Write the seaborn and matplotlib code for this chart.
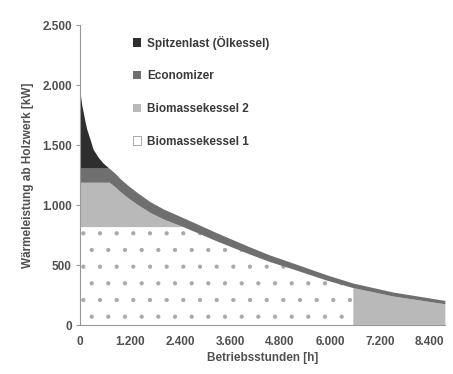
import numpy as np
import matplotlib
matplotlib.use("Agg")
import matplotlib.pyplot as plt
import seaborn as sns
from matplotlib.patches import Patch

# Jahresdauerlinie (kW)
hours = [0, 40, 80, 120, 160, 240, 310, 440, 550, 690,
         720, 850, 960, 1150, 1370, 1680, 2000, 2470,
         2900, 3290, 4080, 4560, 5110, 5930, 6550, 6550, 7510, 8760]
bk1 = [820, 820, 820, 820, 820, 820, 820, 820, 820, 820,
       820, 820, 820, 820, 820, 820, 820, 820,
       757, 699, 590, 528, 467, 373, 312, 0, 0, 0]
bk2 = [370, 370, 370, 370, 370, 370, 370, 370, 370, 370,
       364, 328, 292, 240, 186, 118, 63, 0,
       0, 0, 0, 0, 0, 0, 0, 312, 242, 177]
eco = [118, 118, 118, 118, 118, 118, 118, 118, 118, 118,
       116, 112, 108, 103, 98, 90, 84, 75,
       71, 68, 60, 55, 50, 44, 38, 38, 33, 28]
spitze = [622, 522, 452, 382, 322, 237, 157, 87, 42, 0,
          0, 0, 0, 0, 0, 0, 0, 0,
          0, 0, 0, 0, 0, 0, 0, 0, 0, 0]

labels = ["Biomassekessel 1", "Biomassekessel 2", "Economizer", "Spitzenlast (Ölkessel)"]
colors = ["#ffffff", "#b9b9b9", "#6f6f6f", "#2e2e2e"]

x_ticks = [0, 1200, 2400, 3600, 4800, 6000, 7200, 8400]
y_ticks = [0, 500, 1000, 1500, 2000, 2500]

sns.set_style("ticks")
plt.rcParams["font.family"] = ["Liberation Sans", "DejaVu Sans"]
plt.rcParams["hatch.color"] = "#a8a8a8"
plt.rcParams["hatch.linewidth"] = 0.6

fig = plt.figure(figsize=(4.53, 3.74), dpi=100)
ax = fig.add_axes([0.177, 0.131, 0.805, 0.802])

polys = ax.stackplot(hours, bk1, bk2, eco, spitze, colors=colors, linewidth=0)
polys[0].set_hatch(".")
polys[0].set_edgecolor("#a8a8a8")
polys[0].set_linewidth(0)

def de_fmt(v):
    return f"{v:,}".replace(",", ".")

txt = "#505050"
ax.set_xlim(0, 8760)
ax.set_ylim(0, 2500)
ax.set_xticks(x_ticks)
ax.set_xticklabels([de_fmt(v) for v in x_ticks], fontsize=8.5, fontweight="bold", color=txt)
ax.set_yticks(y_ticks)
ax.set_yticklabels([de_fmt(v) for v in y_ticks], fontsize=8.5, fontweight="bold", color=txt)
ax.tick_params(axis="x", direction="in", length=3, color="#999999", pad=8)
ax.tick_params(axis="y", direction="out", length=3, color="#999999", pad=3)
sns.despine(ax=ax)
for s in ["left", "bottom"]:
    ax.spines[s].set_color("#999999")
    ax.spines[s].set_linewidth(0.8)

ax.set_xlabel("Betriebsstunden [h]", fontsize=8.5, fontweight="bold", color=txt, labelpad=3)
ax.set_ylabel("Wärmeleistung ab Holzwerk [kW]", fontsize=8.5, fontweight="bold", color=txt, labelpad=6)

handles = [Patch(facecolor=colors[3], edgecolor="none"),
           Patch(facecolor=colors[2], edgecolor="none"),
           Patch(facecolor=colors[1], edgecolor="none"),
           Patch(facecolor="white", edgecolor="#999999", linewidth=0.6)]
leg = ax.legend(handles, labels[::-1], loc="upper left", bbox_to_anchor=(0.115, 1.0),
                frameon=False, handlelength=0.7, handleheight=0.7, handletextpad=0.5,
                labelspacing=1.75, prop={"size": 8.5, "weight": "bold"})
for t in leg.get_texts():
    t.set_color("#3a3a3a")

fig.savefig("out.png", dpi=100)
